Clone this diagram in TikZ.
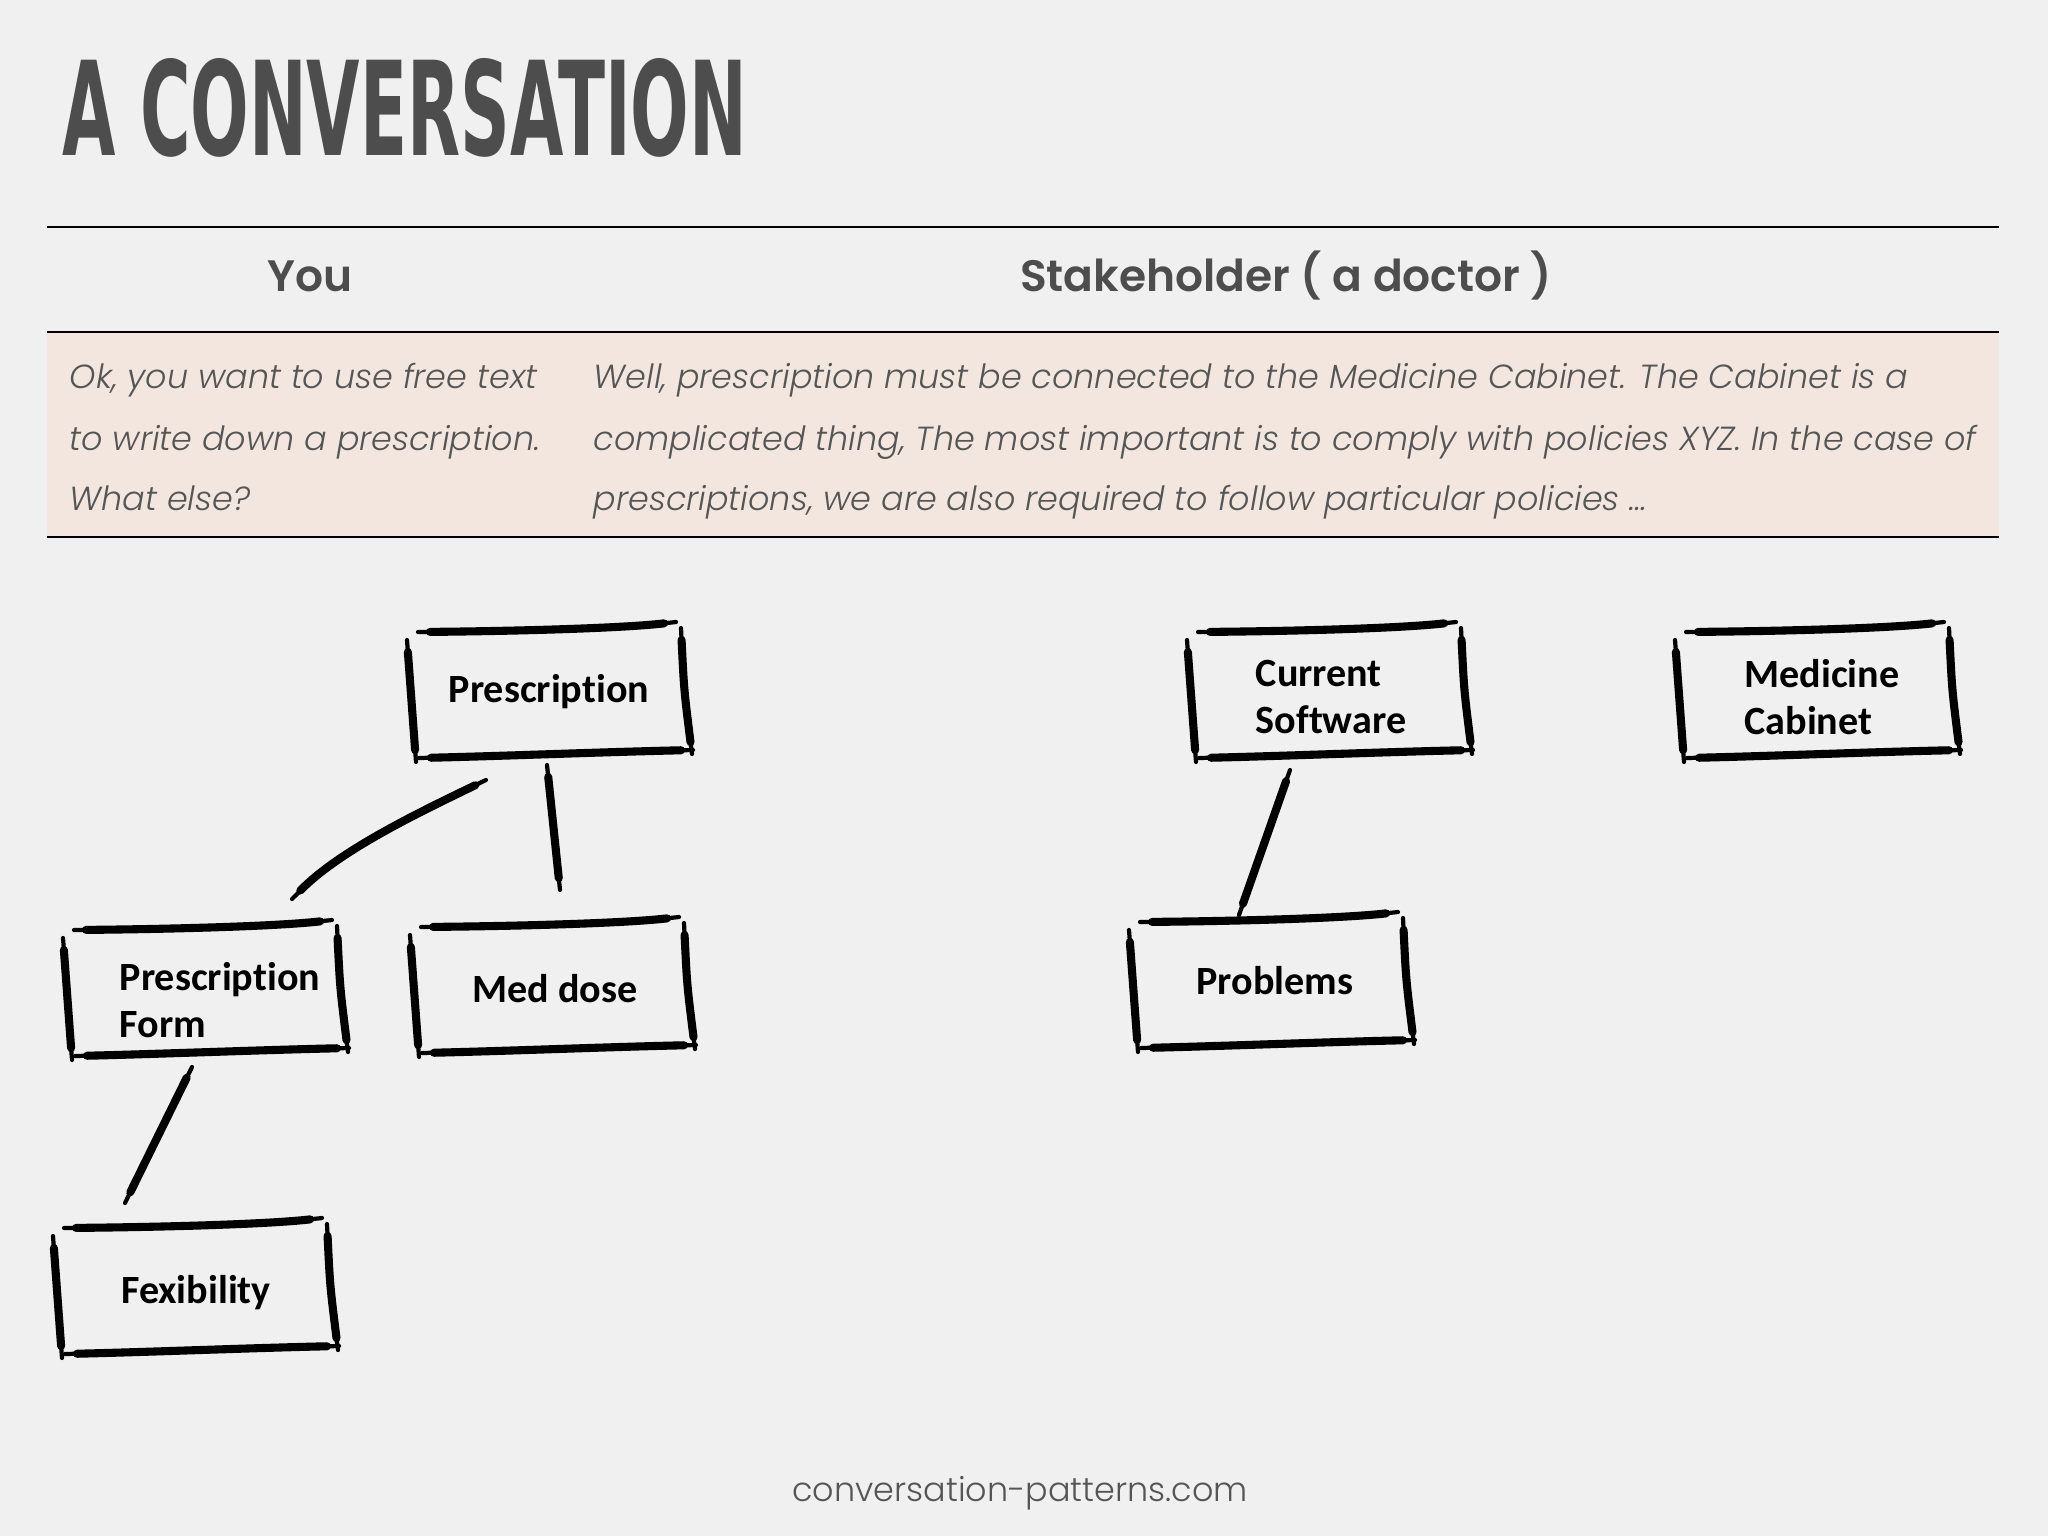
\documentclass[tikz,border=0pt]{standalone}
\usepackage{fontspec}
\usepackage{graphicx}
\usetikzlibrary{calc}

\setmainfont{Poppins}[BoldFont={Poppins SemiBold}]
\newfontfamily\bodyfont{Poppins}[UprightFont={Poppins Light}, ItalicFont={Poppins Light Italic}]
\newfontfamily\boxfont{Carlito}[Ligatures=NoCommon]
\newfontfamily\titlefont{DejaVu Sans}

\definecolor{bgc}{HTML}{F0F0F0}
\definecolor{rowc}{HTML}{F2E6DE}
\definecolor{titlec}{HTML}{4D4D4D}
\definecolor{textc}{HTML}{555555}

% 手绘框：四笔
\newcommand{\sketchbox}[2][0,0]{%
  \begin{scope}[shift={($(#2.center)+(#1)+(-144,-71)$)}]
    \draw[pen] (14,12) .. controls (120,11) and (220,8) .. (272,2);
    \draw[pen] (3,20) -- (12,142);
    \draw[pen] (277,8) .. controls (280,70) .. (288,134);
    \draw[pen] (15,138) .. controls (100,136) and (200,132) .. (289,130);
  \end{scope}}

\begin{document}
\begin{tikzpicture}[x=0.01cm, y=-0.01cm,
    pen/.style={line width=1.2pt, line cap=round,
      postaction={draw, line cap=round, line width=2.3pt, shorten <=0.12cm, shorten >=0.12cm}},
    rule/.style={line width=0.8pt, black},
    head/.style={font=\bfseries\fontsize{12.5}{15}\selectfont, text=titlec},
    body/.style={font=\bodyfont\itshape\fontsize{9.5}{12}\selectfont, text=textc, anchor=base west, inner sep=0},
    word/.style={font=\boxfont\bfseries\fontsize{11.4}{13.6}\selectfont, align=left, inner sep=0}]
% 背景
\fill[bgc] (0,0) rectangle (2048,1536);
\useasboundingbox (0,0) rectangle (2048,1536);

% 标题
\node[anchor=north west, inner sep=0, text=titlec] (title) at (62,58)
  {\resizebox{6.84cm}{0.97cm}{\titlefont\bfseries A CONVERSATION}};

% 表格
\fill[rowc] (47,332) rectangle (1999,537);
\draw[rule] (47,227) -- (1999,227);
\draw[rule] (47,332) -- (1999,332);
\draw[rule] (47,537) -- (1999,537);
\node[head] (you) at (310,276) {You};
\node[head] (doctor) at (1286,276) {Stakeholder ( a doctor )};

\node[body] (you1) at (69,388) {Ok, you want to use free text};
\node[body] (you2) at (69,450) {to write down a prescription.};
\node[body] (you3) at (69,510) {What else?};
\node[body] (doc1) at (593,388) {Well, prescription must be connected to the Medicine Cabinet. The Cabinet is a};
\node[body] (doc2) at (593,450) {complicated thing, The most important is to comply with policies XYZ. In the case of};
\node[body] (doc3) at (593,510) {prescriptions, we are also required to follow particular policies …};

% 概念框
\node[word] (presc) at (549,692) {Prescription};
\node[word] (form) at (220,1000) {Prescription\\Form};
\node[word] (meddose) at (555,989) {Med dose};
\node[word] (fex) at (196,1293) {Fexibility};
\node[word] (cursw) at (1331,697) {Current\\Software};
\node[word] (probs) at (1275,981) {Problems};
\node[word] (medcab) at (1822,697) {Medicine\\Cabinet};

\sketchbox[-1,-1]{presc}
\sketchbox[-16,-11]{form}
\sketchbox[-4,-3]{meddose}
\sketchbox[-2,-6]{fex}
\sketchbox[-3,-6]{cursw}
\sketchbox[-5,0]{probs}
\sketchbox[-6,-6]{medcab}

% 连线
\draw[pen] ($(presc)+(-63,88)$) .. controls ($(presc)+(-129,120)$) and ($(form)+(120,-150)$) .. ($(form)+(72,-101)$);
\draw[pen] ($(presc)+(-2,73)$) -- ($(meddose)+(5,-99)$);
\draw[pen] ($(form)+(-28,67)$) -- ($(fex)+(-71,-90)$);
\draw[pen] ($(cursw)+(-41,73)$) -- ($(probs)+(-36,-66)$);

% 页脚
\node[font=\bodyfont\fontsize{9.5}{11}\selectfont, text=textc] (site) at (1020,1493) {conversation-patterns.com};
\end{tikzpicture}
\end{document}
